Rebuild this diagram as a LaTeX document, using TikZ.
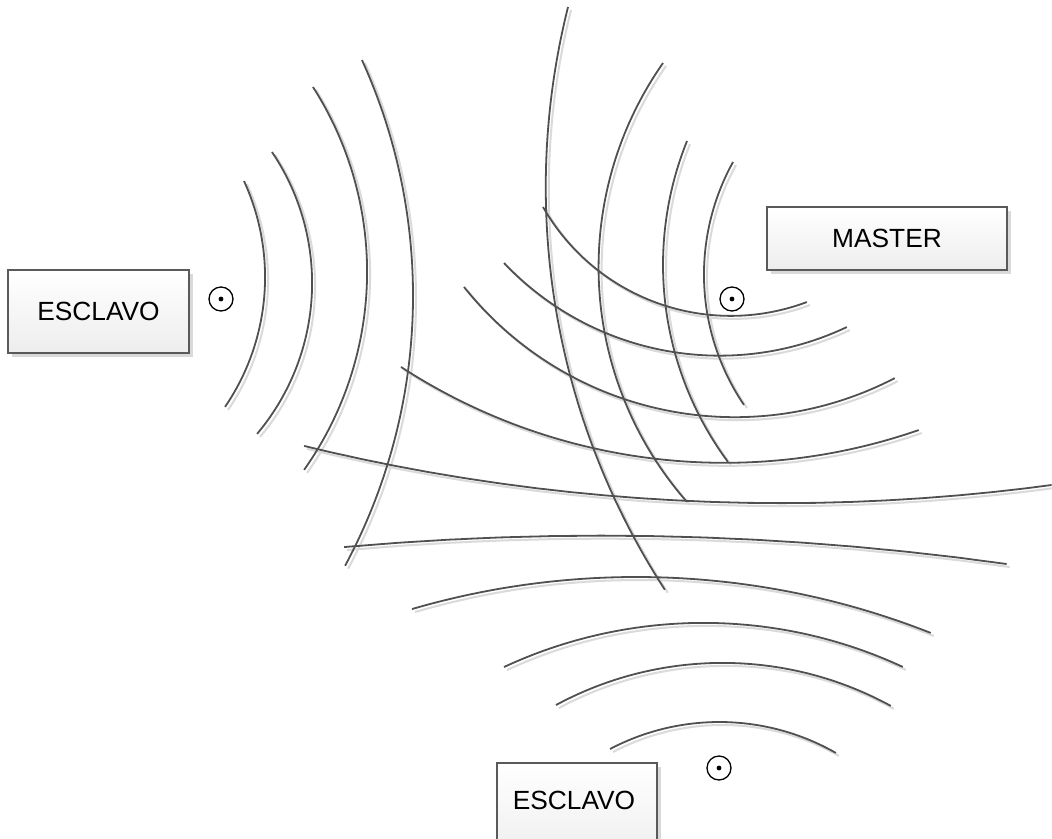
\documentclass[tikz,border=0pt]{standalone}
\usepackage{fontspec}
\setmainfont{Liberation Sans}
\usetikzlibrary{shadows}
\definecolor{waveclr}{HTML}{505050}
\definecolor{shadowclr}{HTML}{DADADA}
\definecolor{boxedge}{HTML}{5A5A5A}
% circular arc through three points (pixel coordinates)
\newcommand\threearc[7]{%
  \pgfmathsetmacro\myBx{(#4-#2)/100}\pgfmathsetmacro\myBy{(#5-#3)/100}%
  \pgfmathsetmacro\myCx{(#6-#2)/100}\pgfmathsetmacro\myCy{(#7-#3)/100}%
  \pgfmathsetmacro\myD{2*(\myBx*\myCy-\myBy*\myCx)}%
  \pgfmathsetmacro\myBs{\myBx*\myBx+\myBy*\myBy}%
  \pgfmathsetmacro\myCs{\myCx*\myCx+\myCy*\myCy}%
  \pgfmathsetmacro\myUx{(\myCy*\myBs-\myBy*\myCs)/\myD}%
  \pgfmathsetmacro\myUy{(\myBx*\myCs-\myCx*\myBs)/\myD}%
  \pgfmathsetmacro\myR{sqrt(\myUx*\myUx+\myUy*\myUy)}%
  \pgfmathsetmacro\myAone{atan2(-\myUy,-\myUx)}%
  \pgfmathsetmacro\myAtwo{atan2(\myBy-\myUy,\myBx-\myUx)}%
  \pgfmathsetmacro\myAthree{atan2(\myCy-\myUy,\myCx-\myUx)}%
  \pgfmathsetmacro\myb{mod(\myAtwo-\myAone+720,360)}%
  \pgfmathsetmacro\myc{mod(\myAthree-\myAone+720,360)}%
  \pgfmathsetmacro\mySw{\myb<\myc ? \myc : \myc-360}%
  \draw[#1] plot[domain=0:1, samples=90] ({#2+100*(\myUx+\myR*cos(\myAone+\x*\mySw))},{#3+100*(\myUy+\myR*sin(\myAone+\x*\mySw))});%
}
\newcommand\drawwaves[1]{%
  % left family
  \threearc{#1}{244}{181}{265}{283}{225}{407}
  \threearc{#1}{272}{152}{312}{290}{257}{434}
  \threearc{#1}{313}{87}{367}{280}{304}{470}
  \threearc{#1}{362}{60}{413}{290}{345}{566}
  % master family
  \threearc{#1}{733}{162}{704}{270}{744}{405}
  \threearc{#1}{687}{141}{663}{265}{728}{462}
  \threearc{#1}{663}{63}{599}{285}{687}{502}
  \threearc{#1}{568}{7}{546}{207}{665}{590}
  % sagging curves
  \threearc{#1}{543}{207}{663}{305}{807}{302}
  \threearc{#1}{504}{263}{673}{352}{847}{327}
  \threearc{#1}{464}{287}{627}{400}{895}{378}
  \threearc{#1}{401}{367}{657}{459}{919}{430}
  \threearc{#1}{304}{446}{688}{501}{1052}{485}
  % flat and upward curves
  \threearc{#1}{344}{547}{650}{536}{1007}{564}
  \threearc{#1}{412}{609}{643}{577}{931}{633}
  \threearc{#1}{504}{667}{693}{623}{903}{667}
  \threearc{#1}{556}{705}{714}{663}{891}{706}
  \threearc{#1}{610}{749}{720}{722}{836}{753}
}
\begin{document}
\begin{tikzpicture}[x=1pt,y=-1pt,
  wave/.style={draw=waveclr, line width=1.8pt},
  waveshadow/.style={draw=shadowclr, line width=2pt, shift={(3,3)}},
  box/.style={draw=boxedge, line width=1.5pt, top color=white, bottom color=gray!14,
    drop shadow={shadow xshift=4pt, shadow yshift=-4pt, fill=gray!30, opacity=1}, inner sep=0pt},
  boxtext/.style={font=\fontsize{26.3}{31}\selectfont, text=black, inner sep=0pt},
  src/.style={circle, draw=black, line width=1.3pt, minimum size=24pt, inner sep=0pt}]
\path[use as bounding box, fill=white] (0,0) rectangle (1052,838);
\clip (0,0) rectangle (1052,838);
\drawwaves{waveshadow}
\drawwaves{wave}
% boxes
\node[box, minimum width=181pt, minimum height=83pt] (s1) at (98.5,311.5) {};
\node[boxtext] (s1t) at (s1.center) {ESCLAVO};
\node[box, minimum width=240pt, minimum height=63pt] (m) at (887,238.5) {};
\node[boxtext] (mt) at (m.center) {MASTER};
\node[box, minimum width=160pt, minimum height=100pt, anchor=north west] (s2) at (496,762) {};
\node[boxtext] (s2t) at (574,800) {ESCLAVO};
% sources
\node[src] (c1) at (221,299) {};
\fill (c1.center) circle (2.4);
\node[src] (c2) at (732,299) {};
\fill (c2.center) circle (2.4);
\node[src] (c3) at (719,768) {};
\fill (c3.center) circle (2.4);
\end{tikzpicture}
\end{document}
